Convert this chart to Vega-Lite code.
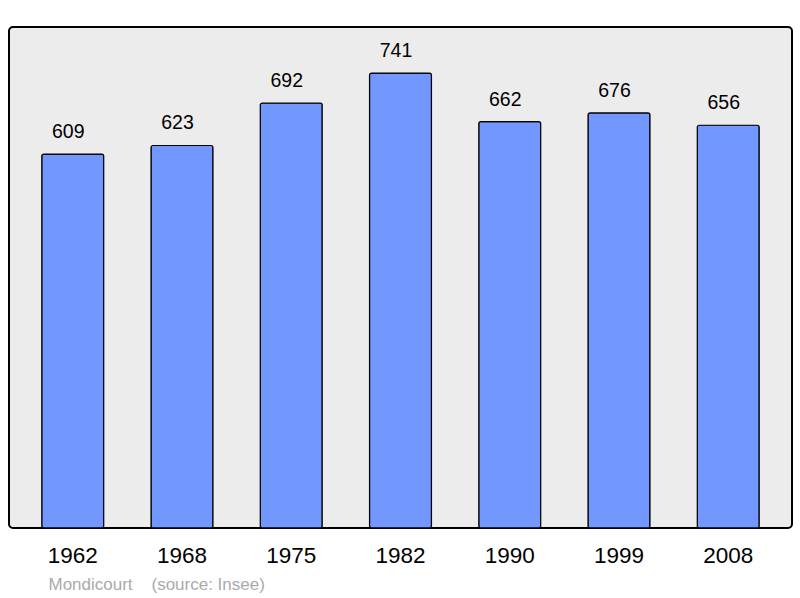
{
  "$schema": "https://vega.github.io/schema/vega-lite/v6.json",
  "width": 783,
  "height": 501,
  "autosize": {"type": "none"},
  "padding": {"left": 9, "top": 27, "right": 8, "bottom": 70},
  "background": "#ffffff",
  "config": {
    "view": {"fill": "#ececec", "stroke": "#000000", "strokeWidth": 2, "cornerRadius": 4},
    "font": "Liberation Sans"
  },
  "data": {
    "values": [
      {"year": "1962", "pop": 609},
      {"year": "1968", "pop": 623},
      {"year": "1975", "pop": 692},
      {"year": "1982", "pop": 741},
      {"year": "1990", "pop": 662},
      {"year": "1999", "pop": 676},
      {"year": "2008", "pop": 656}
    ]
  },
  "encoding": {
    "x": {
      "field": "year",
      "type": "ordinal",
      "sort": null,
      "scale": {"paddingInner": 0.433, "paddingOuter": 0.3},
      "axis": {
        "domain": false,
        "ticks": false,
        "labelAngle": 0,
        "labelFontSize": 22.5,
        "labelColor": "#000000",
        "labelPadding": 16,
        "title": "Mondicourt\u00a0\u00a0\u00a0\u00a0(source: Insee)",
        "titleFontSize": 17,
        "titleFontWeight": "normal",
        "titleColor": "#aaaaaa",
        "titleAnchor": "start",
        "titleAlign": "left",
        "titleBaseline": "middle",
        "titleX": 39,
        "titleY": 56
      }
    },
    "y": {
      "field": "pop",
      "type": "quantitative",
      "scale": {"domain": [0, 816], "nice": false},
      "axis": null
    }
  },
  "layer": [
    {
      "mark": {"type": "bar", "fill": "#7297ff", "stroke": "#000000", "strokeWidth": 1.2, "cornerRadius": 2}
    },
    {
      "mark": {"type": "text", "dy": -12, "dx": -4.5, "fontSize": 19.5, "color": "#000000", "baseline": "bottom"},
      "encoding": {"text": {"field": "pop", "type": "quantitative"}}
    }
  ]
}
